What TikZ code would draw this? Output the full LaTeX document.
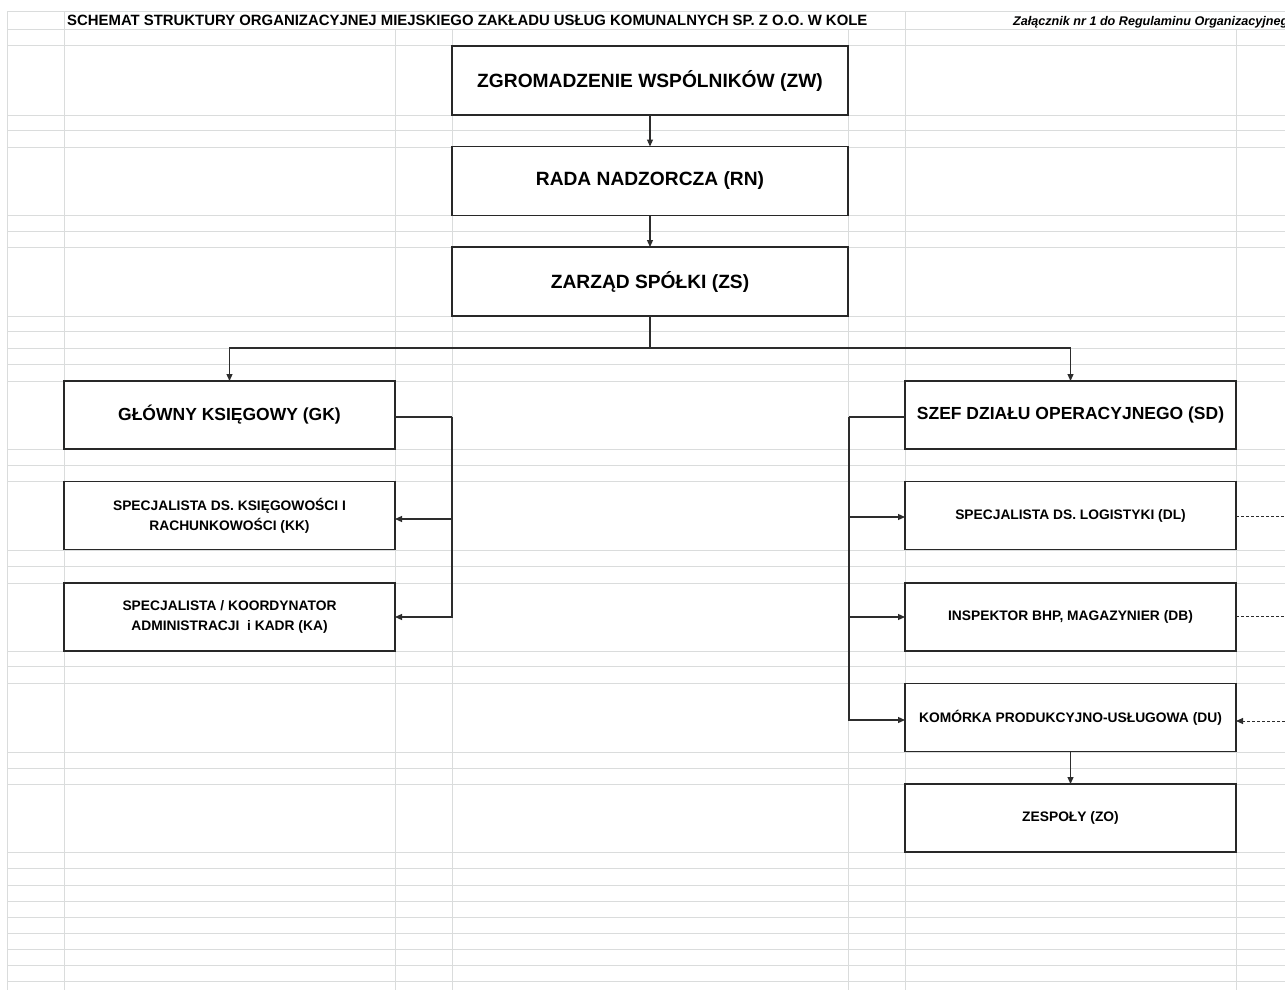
\documentclass[tikz,border=0pt]{standalone}
\usepackage{fontspec}
\setmainfont{Liberation Sans}
\usetikzlibrary{arrows.meta}
\definecolor{gridc}{RGB}{218,220,220}
\definecolor{boxc}{RGB}{40,40,40}
\definecolor{linec}{RGB}{45,45,45}
\begin{document}
\begin{tikzpicture}[x=1pt,y=-1pt,
  gridline/.style={draw=gridc,line width=1pt},
  orgbox/.style={draw=boxc,line width=1.7pt,fill=white,rectangle,inner sep=0pt,outer sep=0pt,align=center},
  widebox/.style={orgbox,minimum width=396pt,minimum height=69pt,font=\fontsize{19.2}{23}\selectfont\bfseries},
  headbox/.style={orgbox,minimum width=331pt,minimum height=68pt,font=\fontsize{17.5}{21}\selectfont\bfseries},
  smallbox/.style={orgbox,minimum width=331pt,minimum height=68pt,font=\fontsize{13.8}{20}\selectfont\bfseries},
  conn/.style={draw=linec,line width=1.2pt},
  arr/.style={conn,-{Triangle[length=7pt,width=6pt]}},
  dashconn/.style={draw=linec,line width=1pt,dash pattern=on 3pt off 2pt},
  dasharr/.style={dashconn,-{Triangle[length=7pt,width=6pt]}},
  titletext/.style={inner sep=0pt,anchor=base west,font=\fontsize{14.9}{17}\selectfont\bfseries},
  notetext/.style={inner sep=0pt,anchor=base west,font=\fontsize{12.6}{15}\selectfont\bfseries\itshape}
]
\useasboundingbox (0,0) rectangle (1285,990);
\clip (0,0) rectangle (1285,990);
\fill[white] (0,0) rectangle (1285,990);
% spreadsheet grid
\foreach \yy in {12,30,46,115,130,147,215,231,247,316,331,348,364,381,449,465,481,550,566,583,651,666,683,752,768,784,852,868,885,901,917,933,949,965,981}
  \draw[gridline] (7,\yy) -- (1285,\yy);
\foreach \xx in {7,64,905}
  \draw[gridline] (\xx,12) -- (\xx,990);
\foreach \xx in {395,452,848,1236}
  \draw[gridline] (\xx,30) -- (\xx,990);
% header texts
\node[titletext] (title) at (67,26) {SCHEMAT STRUKTURY ORGANIZACYJNEJ MIEJSKIEGO ZAKŁADU USŁUG KOMUNALNYCH SP. Z O.O. W KOLE};
\node[notetext] (note) at (1013,26) {Załącznik nr 1 do Regulaminu Organizacyjnego};
% boxes
\node[widebox] (ZW) at (650,80.5) {ZGROMADZENIE WSPÓLNIKÓW (ZW)};
\node[widebox] (RN) at (650,181) {RADA NADZORCZA (RN)};
\node[widebox] (ZS) at (650,281.5) {ZARZĄD SPÓŁKI (ZS)};
\node[headbox] (GK) at (229.5,415) {GŁÓWNY KSIĘGOWY (GK)};
\node[headbox] (SD) at (1070.5,415) {SZEF DZIAŁU OPERACYJNEGO (SD)};
\node[smallbox] (KK) at (229.5,515.5) {SPECJALISTA DS. KSIĘGOWOŚCI I\\RACHUNKOWOŚCI (KK)};
\node[smallbox] (KA) at (229.5,617) {SPECJALISTA / KOORDYNATOR\\ADMINISTRACJI\ \ i KADR (KA)};
\node[smallbox] (DL) at (1070.5,515.5) {SPECJALISTA DS. LOGISTYKI (DL)};
\node[smallbox] (DB) at (1070.5,617) {INSPEKTOR BHP, MAGAZYNIER (DB)};
\node[smallbox] (DU) at (1070.5,717.5) {KOMÓRKA PRODUKCYJNO-USŁUGOWA (DU)};
\node[smallbox] (ZO) at (1070.5,818) {ZESPOŁY (ZO)};
% junction coordinates
\coordinate (split) at (650,348);
\coordinate (gkbus) at (452,417);
\coordinate (sdbus) at (849,417);
\coordinate (kkin) at (452,519);
\coordinate (dlin) at (849,517);
\coordinate (duin) at (849,720);
\coordinate (eDL) at (1290,516);
\coordinate (eDB) at (1290,616);
\coordinate (eDU) at (1290,721);
% connectors
\draw[arr] (ZW) -- (RN);
\draw[arr] (RN) -- (ZS);
\draw[conn] (ZS.south) -- (split);
\draw[arr] (split) -| (GK.north);
\draw[arr] (split) -| (SD.north);
\draw[conn] (GK.east |- gkbus) -- (gkbus);
\draw[arr] (gkbus) -- (kkin) -- (KK.east |- kkin);
\draw[arr] (kkin) |- (KA.east);
\draw[conn] (SD.west |- sdbus) -- (sdbus);
\draw[arr] (sdbus) -- (dlin) -- (DL.west |- dlin);
\draw[arr] (dlin) |- (DB.west);
\draw[arr] (sdbus) -- (duin) -- (DU.west |- duin);
\draw[arr] (DU) -- (ZO);
\draw[dashconn] (DL.east |- eDL) -- (eDL);
\draw[dashconn] (DB.east |- eDB) -- (eDB);
\draw[dasharr] (eDU) -- (DU.east |- eDU);
\end{tikzpicture}
\end{document}
